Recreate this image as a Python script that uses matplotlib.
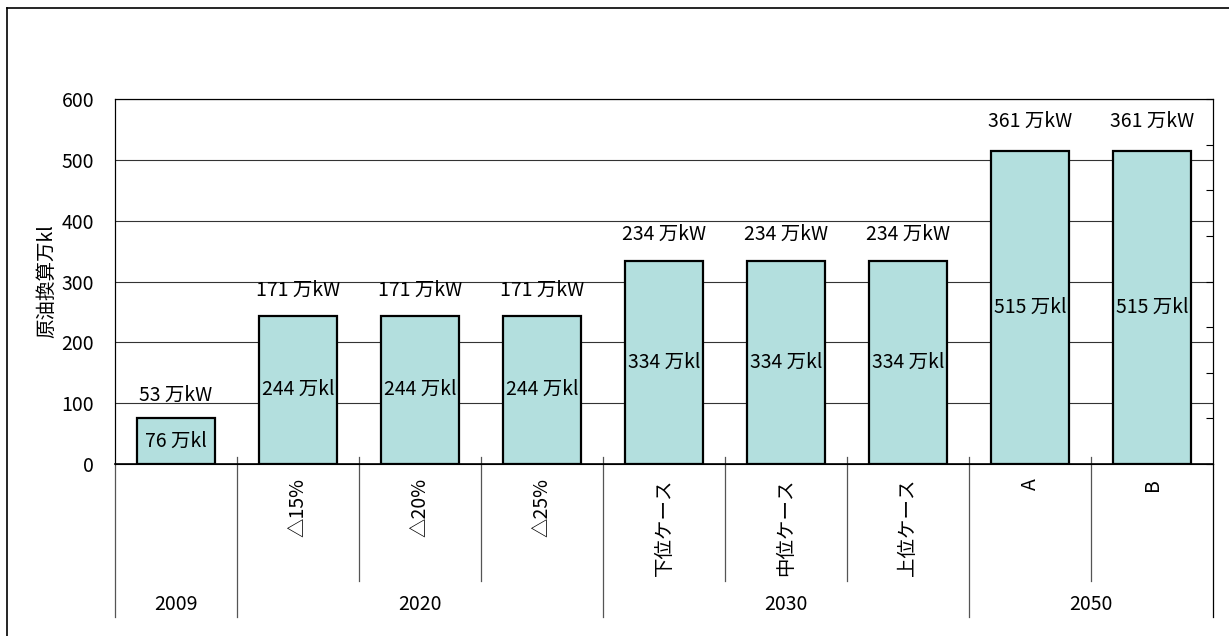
import numpy as np
import matplotlib.pyplot as plt
from matplotlib.lines import Line2D
import matplotlib.transforms as mtransforms

plt.rcParams['font.family'] = ['Noto Sans CJK JP', 'DejaVu Sans']

# data
cases = ['', '△15%', '△20%', '△25%', '下位ケース', '中位ケース', '上位ケース', 'A', 'B']
years = ['2009', '2020', '2030', '2050']
year_span = [(0, 0), (1, 3), (4, 6), (7, 8)]
oil_kl = [76, 244, 244, 244, 334, 334, 334, 515, 515]
power_kw = [53, 171, 171, 171, 234, 234, 234, 361, 361]

W, H = 1229, 636
fs = 14
fig = plt.figure(figsize=(W / 100, H / 100), dpi=100)
ax = fig.add_axes([115 / W, (H - 464) / H, 1098 / W, 365 / H])

x = np.arange(len(oil_kl))
ax.bar(x, oil_kl, width=0.64, color='#b3dfde', edgecolor='black', linewidth=1.6, zorder=3)

ax.set_xlim(-0.5, len(oil_kl) - 0.5)
ax.set_ylim(0, 600)
ax.set_yticks(range(0, 601, 100))
ax.tick_params(axis='y', length=0, pad=15, labelsize=fs)
ax.set_xticks([])
ax.grid(axis='y', color='#333333', linewidth=0.8, zorder=0)
for s in ['top', 'right', 'left']:
    ax.spines[s].set_linewidth(0.8)
ax.spines['bottom'].set_linewidth(1.2)
ax.set_ylabel('原油換算万kl', fontsize=fs, labelpad=3)

# right axis with ticks only
ax2 = ax.twinx()
ax2.set_ylim(0, 400)
ax2.set_yticks(range(0, 401, 50))
ax2.tick_params(axis='y', direction='in', length=5, labelright=False, width=0.8)
ax2.spines['right'].set_linewidth(0.8)

# labels on bars
for xi, kl, kw in zip(x, oil_kl, power_kw):
    ax.text(xi, kl / 2, f'{kl} 万kl', ha='center', va='center', fontsize=fs, zorder=4)
    ax.annotate(f'{kw} 万kW', (xi, kl), xytext=(0, 15 + kl / 80), textcoords='offset points',
                ha='center', va='center', fontsize=fs)

# category axis
tr = mtransforms.blended_transform_factory(ax.transData, ax.transAxes)
px = 1 / 365
for xi, lab in zip(x, cases):
    ax.text(xi, -14 * px, lab, rotation=90, ha='center', va='top', fontsize=fs, transform=tr)

for name, (a, b) in zip(years, year_span):
    ax.text((a + b) / 2, -141 * px, name, ha='center', va='center', fontsize=fs, transform=tr)
    for i in range(a, b):
        ax.add_line(Line2D([i + 0.5, i + 0.5], [7 * px, -117 * px], color='#555555',
                           linewidth=0.9, transform=tr, clip_on=False))
    top = 0 if a == 0 else 7 * px
    ax.add_line(Line2D([a - 0.5, a - 0.5], [top, -153 * px], color='#555555',
                       linewidth=0.9, transform=tr, clip_on=False))
ax.add_line(Line2D([len(x) - 0.5] * 2, [0, -153 * px], color='black',
                   linewidth=0.9, transform=tr, clip_on=False))

# outer frame (top and left edges)
fig.add_artist(Line2D([7 / W, 7 / W], [0, 1 - 8 / H], color='black', linewidth=1.2))
fig.add_artist(Line2D([7 / W, 1], [1 - 8 / H, 1 - 8 / H], color='black', linewidth=1.2))

fig.savefig('out.png', dpi=100)
